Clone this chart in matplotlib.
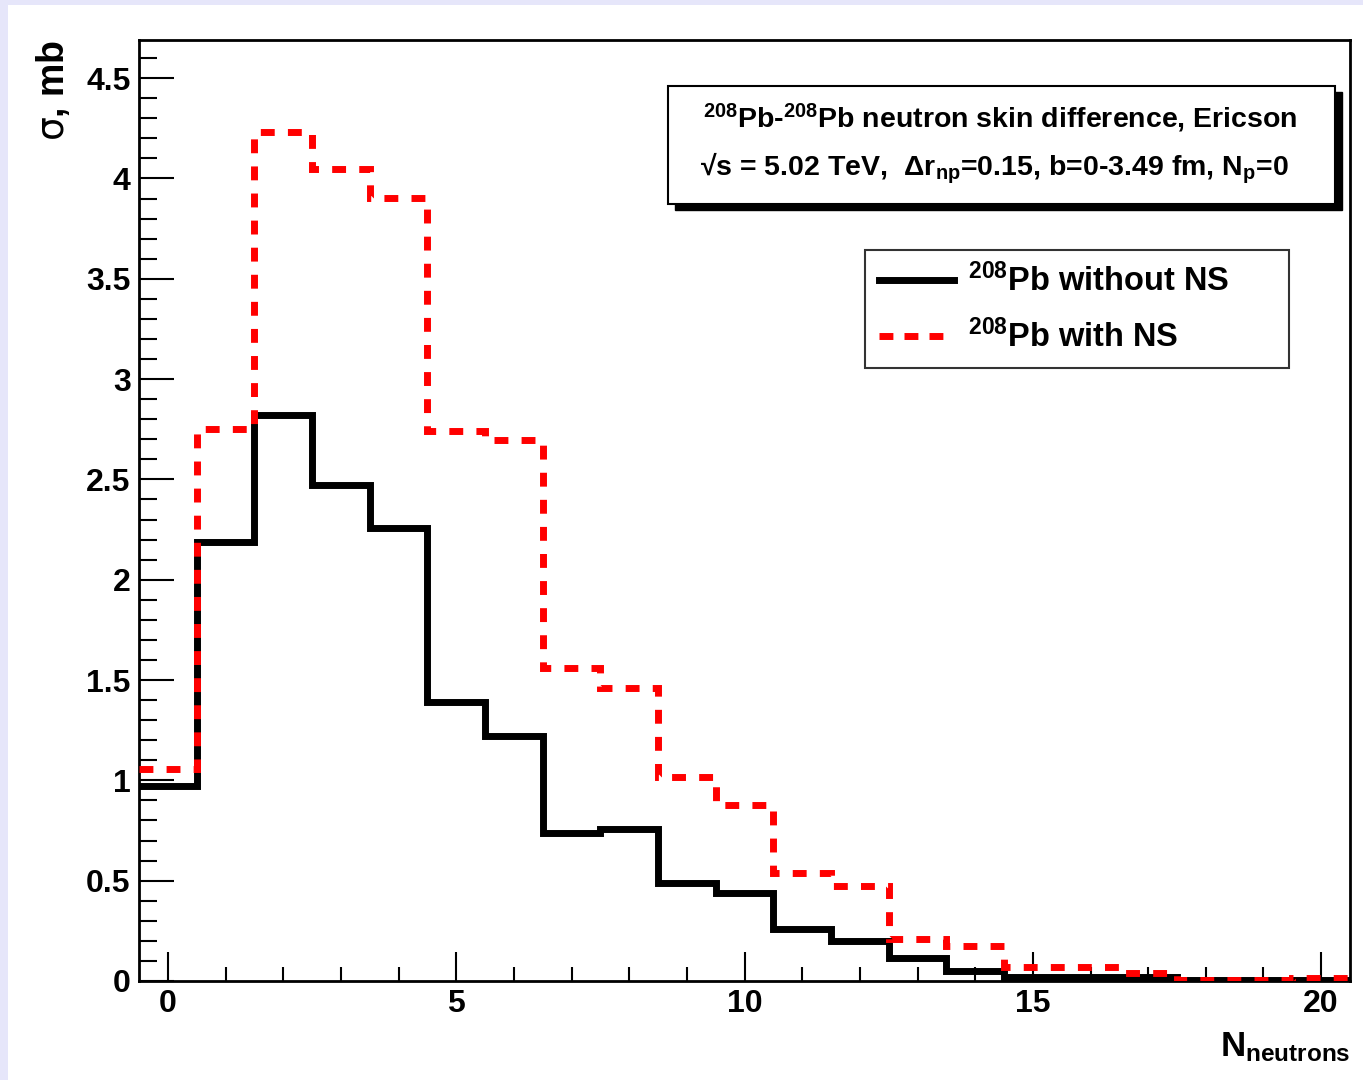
import numpy as np
import matplotlib
matplotlib.use("Agg")
import matplotlib.pyplot as plt
from matplotlib.lines import Line2D
from matplotlib.patches import Rectangle
from matplotlib.ticker import MultipleLocator

plt.rcParams['font.family'] = ['Liberation Sans', 'DejaVu Sans']
plt.rcParams['font.weight'] = 'bold'
plt.rcParams['axes.labelweight'] = 'bold'
plt.rcParams['mathtext.fontset'] = 'custom'
plt.rcParams['mathtext.rm'] = 'Liberation Sans:bold'
plt.rcParams['mathtext.bf'] = 'Liberation Sans:bold'
plt.rcParams['mathtext.it'] = 'Liberation Sans:bold'
plt.rcParams['mathtext.sf'] = 'DejaVu Sans:weight=normal'
plt.rcParams['mathtext.default'] = 'rm'

# neutron multiplicity bins 0..20
n_neutrons = np.arange(0, 21)
edges = np.arange(-0.5, 21.0, 1.0)

# sigma [mb], 208Pb without neutron skin
sigma_no_ns = [0.97, 2.19, 2.82, 2.47, 2.26, 1.39, 1.22, 0.74, 0.76, 0.49, 0.44,
               0.26, 0.20, 0.115, 0.05, 0.02, 0.02, 0.02, 0.005, 0.005, 0.005]
# sigma [mb], 208Pb with neutron skin
sigma_ns = [1.055, 2.75, 4.23, 4.045, 3.905, 2.74, 2.695, 1.56, 1.46, 1.015, 0.875,
            0.54, 0.475, 0.21, 0.175, 0.07, 0.07, 0.04, 0.005, 0.005, 0.017]

W, H = 1363, 1080
fig = plt.figure(figsize=(W / 100, H / 100), dpi=100, facecolor='white')

# lavender canvas border (top and left)
fig.patches.append(Rectangle((0, 1 - 5 / H), 1, 5 / H, transform=fig.transFigure,
                             facecolor='#e6e6fa', edgecolor='none', zorder=-5))
fig.patches.append(Rectangle((0, 0), 8 / W, 1, transform=fig.transFigure,
                             facecolor='#e6e6fa', edgecolor='none', zorder=-5))

x0, x1, y0, y1 = 139, 1350, 40, 981
ax = fig.add_axes([x0 / W, 1 - y1 / H, (x1 - x0) / W, (y1 - y0) / H])

ax.stairs(sigma_no_ns, edges, baseline=None, color='black', linewidth=5, zorder=3)
red = ax.stairs(sigma_ns, edges, baseline=None, color='#ff0000', linewidth=5, zorder=4)
red.set_linestyle((0, (2.0, 1.9)))

ax.set_xlim(-0.5, 20.5)
ax.set_ylim(0, 4.69)

for s in ['top', 'right', 'left', 'bottom']:
    ax.spines[s].set_linewidth(2)

ax.xaxis.set_major_locator(MultipleLocator(5))
ax.xaxis.set_minor_locator(MultipleLocator(1))
ax.yaxis.set_major_locator(MultipleLocator(0.5))
ax.yaxis.set_minor_locator(MultipleLocator(0.1))
ax.tick_params(axis='both', which='both', direction='in', width=1.5,
               top=False, right=False, labelsize=23)
ax.tick_params(axis='x', which='major', length=21, pad=6)
ax.tick_params(axis='x', which='minor', length=10)
ax.tick_params(axis='y', which='major', length=25, pad=6)
ax.tick_params(axis='y', which='minor', length=13)
ax.set_yticks([0, 0.5, 1, 1.5, 2, 2.5, 3, 3.5, 4, 4.5])
ax.set_yticklabels(['0', '0.5', '1', '1.5', '2', '2.5', '3', '3.5', '4', '4.5'])
for lab in ax.get_xticklabels() + ax.get_yticklabels():
    lab.set_fontweight('bold')

ax.set_xlabel(r'N$_{\mathrm{neutrons}}$', loc='right', fontsize=25, labelpad=8)
ax.set_ylabel(r'$\mathsf{σ}$, mb', loc='top', fontsize=27, labelpad=10)

# title box with drop shadow
bx0, bx1, by0, by1 = 668, 1335, 86, 204
def fx(px):
    return px / W
def fy(py):
    return 1 - py / H
fig.patches.append(Rectangle((fx(bx0 + 7), fy(by1 + 6)), (bx1 - bx0) / W, (by1 - by0) / H,
                             transform=fig.transFigure, facecolor='black', edgecolor='black', zorder=5))
fig.patches.append(Rectangle((fx(bx0), fy(by1)), (bx1 - bx0) / W, (by1 - by0) / H,
                             transform=fig.transFigure, facecolor='white', edgecolor='black',
                             linewidth=1.5, zorder=6))
fig.text(fx(1000), fy(118), r'$^{208}$Pb-$^{208}$Pb neutron skin difference, Ericson',
         ha='center', va='center', fontsize=20.5, fontweight='bold', zorder=7)
fig.text(fx(994), fy(168), r'√s = 5.02 TeV,  Δr$_{\mathrm{np}}$=0.15, b=0-3.49 fm, N$_{\mathrm{p}}$=0',
         ha='center', va='center', fontsize=20.5, fontweight='bold', zorder=7)

handles = [Line2D([], [], color='black', linewidth=5),
           Line2D([], [], color='#ff0000', linewidth=5, linestyle=(0, (2.0, 1.6)))]
leg = ax.legend(handles, [r'$^{208}$Pb without NS', r'$^{208}$Pb with NS'],
                loc='upper left', mode='expand',
                bbox_to_anchor=((865 - x0) / (x1 - x0), (y1 - 368) / (y1 - y0),
                                424 / (x1 - x0), 118 / (y1 - y0)),
                fontsize=23.5, frameon=True, fancybox=False, edgecolor='black',
                handlelength=2.3, handletextpad=0.45, labelspacing=0.66,
                borderpad=0.42, borderaxespad=0)
leg.get_frame().set_linewidth(1.5)
for t in leg.get_texts():
    t.set_fontweight('bold')

fig.savefig('out.png', dpi=100, facecolor=fig.get_facecolor())
